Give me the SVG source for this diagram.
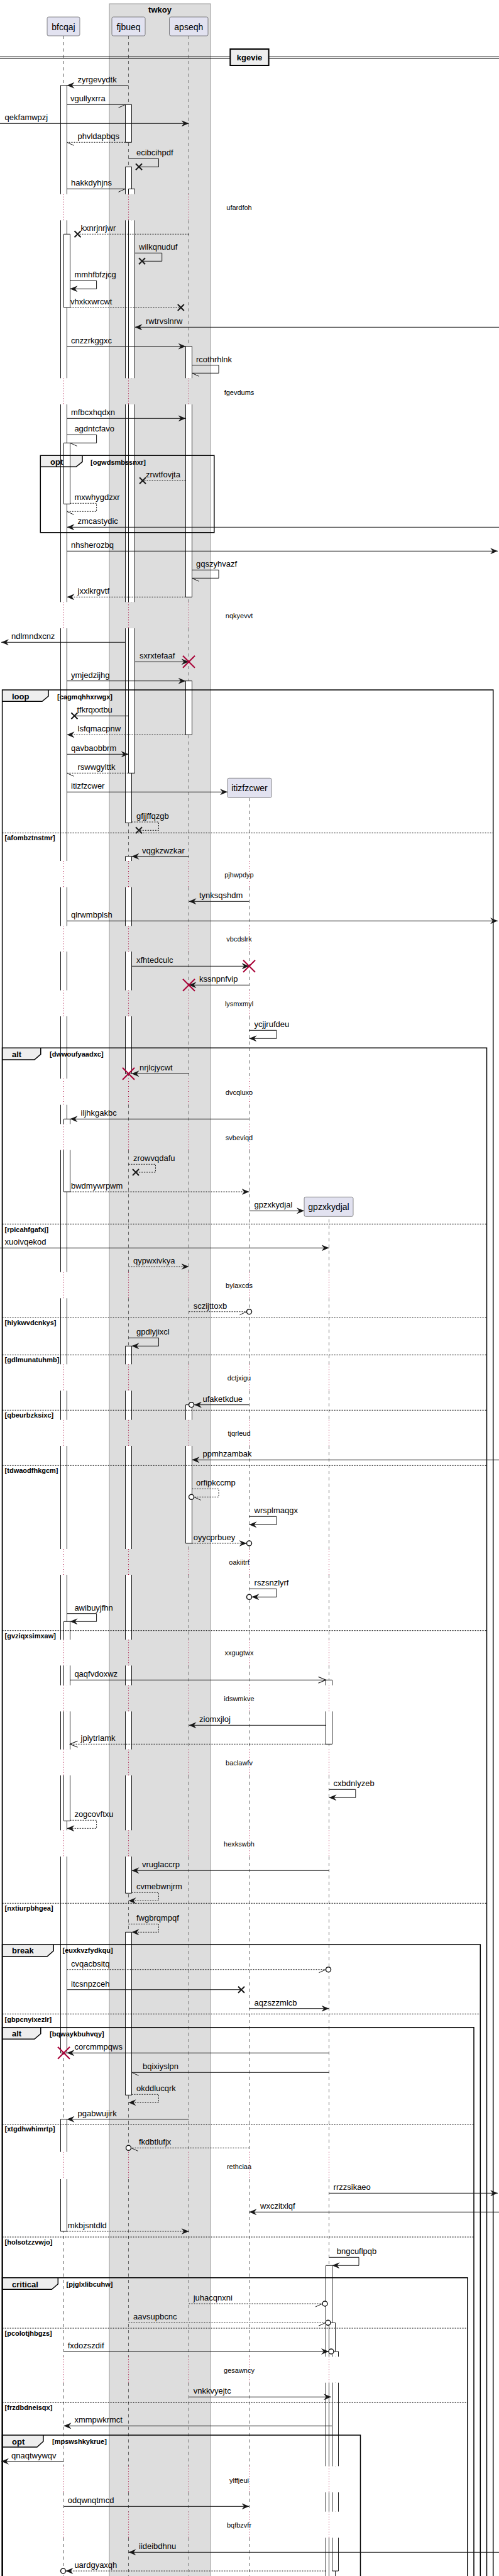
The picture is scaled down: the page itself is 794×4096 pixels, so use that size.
<svg xmlns="http://www.w3.org/2000/svg" xmlns:xlink="http://www.w3.org/1999/xlink" width="794" height="4096" viewBox="0 0 794 4096">
<style>
text{font-family:"Liberation Sans",Arial,sans-serif;fill:#000}
.t{font-size:13px}
.pt{font-size:14px;text-anchor:middle}
.dt{font-size:11px;text-anchor:middle}
.tb{font-size:13px;font-weight:bold}
.cd{font-size:11px;font-weight:bold}
.m{fill:none;stroke:#181818;stroke-width:1}
.d{stroke-dasharray:2,2}
.ll{fill:none;stroke:#666;stroke-width:1;stroke-dasharray:5,5}
.dl{fill:none;stroke:#A80036;stroke-width:1;stroke-dasharray:1,3}
.bw{fill:none;stroke:#fff;stroke-width:10}
.bs{fill:none;stroke:#181818;stroke-width:1}
.fr{fill:none;stroke:#000;stroke-width:1.5}
.tabf{fill:#EEEEEE;stroke:none}
.sep{fill:none;stroke:#000;stroke-width:1;stroke-dasharray:2,2}
.pb{fill:#E2E2F0;stroke:#181818;stroke-width:0.5}
.oc{fill:#fff;stroke:#181818;stroke-width:1.5}
</style>
<defs>
<path id="ll" d="M0,57V308.7M0,350.3V601.3M0,643V957.3M0,999V1369M0,1410.7V1472.3M0,1513V1574.7M0,1616V1715M0,1756.7V1787.3M0,1828.7V2022.7M0,2064.3V2169.3M0,2211.3V2257.7M0,2299V2463M0,2504V2607.3M0,2648.3V2679.7M0,2721.3V2781.7M0,2823V2910.3M0,2952V3421.7M0,3465V3747.3M0,3788.7V3921.3M0,3963V3993.7M0,4035V4096"/>
<path id="dl" d="M0,308.7V350.3M0,601.3V643M0,957.3V999M0,1369V1410.7M0,1472.3V1513M0,1574.7V1616M0,1715V1756.7M0,1787.3V1828.7M0,2022.7V2064.3M0,2169.3V2211.3M0,2257.7V2299M0,2463V2504M0,2607.3V2648.3M0,2679.7V2721.3M0,2781.7V2823M0,2910.3V2952M0,3421.7V3465M0,3747.3V3788.7M0,3921.3V3963M0,3993.7V4035"/>
<path id="rx" d="M-9.5,-9.5L9.5,9.5M-9.5,9.5L9.5,-9.5" stroke="#A80036" stroke-width="2" fill="none"/>
<marker id="af" viewBox="0 0 12 10" refX="12" refY="5" markerWidth="12" markerHeight="10" markerUnits="userSpaceOnUse" orient="auto"><path d="M0,0L12,5L0,10L4,5Z" fill="#181818"/></marker>
<marker id="ao" viewBox="0 0 12 10" refX="12" refY="5" markerWidth="12" markerHeight="10" markerUnits="userSpaceOnUse" orient="auto" overflow="visible"><path d="M0,0L12,5L0,10" fill="none" stroke="#181818" stroke-width="1.2"/></marker>
<marker id="hr" viewBox="0 0 12 10" refX="12" refY="5" markerWidth="12" markerHeight="10" markerUnits="userSpaceOnUse" orient="auto" overflow="visible"><path d="M12,5L1,10" fill="none" stroke="#181818" stroke-width="1"/></marker>
<marker id="hl" viewBox="0 0 12 10" refX="12" refY="5" markerWidth="12" markerHeight="10" markerUnits="userSpaceOnUse" orient="auto" overflow="visible"><path d="M12,5L1,0" fill="none" stroke="#181818" stroke-width="1"/></marker>
<marker id="mx" viewBox="0 0 12 12" refX="6" refY="6" markerWidth="12" markerHeight="12" markerUnits="userSpaceOnUse" orient="auto" overflow="visible"><path d="M1,1L11,11M1,11L11,1" fill="none" stroke="#181818" stroke-width="2"/></marker>
<clipPath id="cL4"><rect x="0" y="1268.3" width="794" height="2828"/></clipPath>
<clipPath id="cL5"><rect x="0" y="1934.3" width="794" height="2162"/></clipPath>
<clipPath id="cB1"><rect x="0" y="135.7" width="794" height="3128.6"/></clipPath>
<clipPath id="cB2"><rect x="0" y="372.3" width="794" height="116.7"/></clipPath>
<clipPath id="cB3"><rect x="0" y="704.3" width="794" height="97"/></clipPath>
<clipPath id="cB4"><rect x="0" y="1779.3" width="794" height="115.7"/></clipPath>
<clipPath id="cB5"><rect x="0" y="2578.3" width="794" height="317"/></clipPath>
<clipPath id="cB6"><rect x="0" y="3369.7" width="794" height="178.3"/></clipPath>
<clipPath id="cF1"><rect x="0" y="166.3" width="794" height="60"/></clipPath>
<clipPath id="cF2"><rect x="0" y="265.3" width="794" height="1043"/></clipPath>
<clipPath id="cF3"><rect x="0" y="300.3" width="794" height="929"/></clipPath>
<clipPath id="cF4"><rect x="0" y="1361.7" width="794" height="345.6"/></clipPath>
<clipPath id="cF5"><rect x="0" y="2140.3" width="794" height="870"/></clipPath>
<clipPath id="cF6"><rect x="0" y="3072.3" width="794" height="259"/></clipPath>
<clipPath id="cA1"><rect x="0" y="550.7" width="794" height="398.6"/></clipPath>
<clipPath id="cA2"><rect x="0" y="1082.7" width="794" height="85.6"/></clipPath>
<clipPath id="cA3"><rect x="0" y="2233.7" width="794" height="220.3"/></clipPath>
<clipPath id="cG1"><rect x="0" y="2671.3" width="794" height="102"/></clipPath>
<clipPath id="cG2"><rect x="0" y="3602.3" width="794" height="500"/></clipPath>
<clipPath id="cG3"><rect x="0" y="3693.3" width="794" height="410"/></clipPath>
<clipPath id="cG4"><rect x="0" y="3739" width="794" height="349"/></clipPath>
</defs>
<rect width="794" height="4096" fill="#fff"/>
<g id="g-twkoy"><rect x="174" y="6" width="161" height="4100" fill="#DDDDDD" stroke="#999" stroke-width="1"/><text class="tb" x="254.5" y="19.5" text-anchor="middle">twkoy</text></g>
<g id="tabs-fill">
<path class="tabf" d="M64.3,724.3H131V734.3L121,742.3H64.3Z"/>
<path class="tabf" d="M3.6,1097H77V1107L67,1115.3H3.6Z"/>
<path class="tabf" d="M3.6,1666.3H64.8V1676.3L54.8,1685H3.6Z"/>
<path class="tabf" d="M3.6,3092H85.2V3102L75.2,3110.7H3.6Z"/>
<path class="tabf" d="M3.6,3223.7H64.8V3233.7L54.8,3242.3H3.6Z"/>
<path class="tabf" d="M3.6,3621.7H92.3V3631.7L82.3,3640.3H3.6Z"/>
<path class="tabf" d="M3.6,3872H68.9V3882L58.9,3891H3.6Z"/>
</g>
<g id="lifelines">
<use href="#ll" x="101.5" class="ll"/><use href="#dl" x="101.5" class="dl"/>
<use href="#ll" x="204.5" class="ll"/><use href="#dl" x="204.5" class="dl"/>
<use href="#ll" x="300.5" class="ll"/><use href="#dl" x="300.5" class="dl"/>
<g clip-path="url(#cL4)"><use href="#ll" x="396.5" class="ll"/><use href="#dl" x="396.5" class="dl"/></g>
<g clip-path="url(#cL5)"><use href="#ll" x="523.5" class="ll"/><use href="#dl" x="523.5" class="dl"/></g>
</g>
<g id="bars">
<g clip-path="url(#cB1)"><use href="#ll" x="101.5" class="bw"/><use href="#ll" x="96.5" class="bs"/><use href="#ll" x="106.5" class="bs"/></g>
<g clip-path="url(#cB2)"><use href="#ll" x="106.5" class="bw"/><use href="#ll" x="101.5" class="bs"/><use href="#ll" x="111.5" class="bs"/></g>
<g clip-path="url(#cB3)"><use href="#ll" x="106.5" class="bw"/><use href="#ll" x="101.5" class="bs"/><use href="#ll" x="111.5" class="bs"/></g>
<g clip-path="url(#cB4)"><use href="#ll" x="106.5" class="bw"/><use href="#ll" x="101.5" class="bs"/><use href="#ll" x="111.5" class="bs"/></g>
<g clip-path="url(#cB5)"><use href="#ll" x="106.5" class="bw"/><use href="#ll" x="101.5" class="bs"/><use href="#ll" x="111.5" class="bs"/></g>
<g clip-path="url(#cB6)"><use href="#ll" x="101.5" class="bw"/><use href="#ll" x="96.5" class="bs"/><use href="#ll" x="106.5" class="bs"/></g>
<g clip-path="url(#cF1)"><use href="#ll" x="204.5" class="bw"/><use href="#ll" x="199.5" class="bs"/><use href="#ll" x="209.5" class="bs"/></g>
<g clip-path="url(#cF2)"><use href="#ll" x="204.5" class="bw"/><use href="#ll" x="199.5" class="bs"/><use href="#ll" x="209.5" class="bs"/></g>
<g clip-path="url(#cF3)"><use href="#ll" x="209.5" class="bw"/><use href="#ll" x="204.5" class="bs"/><use href="#ll" x="214.5" class="bs"/></g>
<g clip-path="url(#cF4)"><use href="#ll" x="204.5" class="bw"/><use href="#ll" x="199.5" class="bs"/><use href="#ll" x="209.5" class="bs"/></g>
<g clip-path="url(#cF5)"><use href="#ll" x="204.5" class="bw"/><use href="#ll" x="199.5" class="bs"/><use href="#ll" x="209.5" class="bs"/></g>
<g clip-path="url(#cF6)"><use href="#ll" x="204.5" class="bw"/><use href="#ll" x="199.5" class="bs"/><use href="#ll" x="209.5" class="bs"/></g>
<g clip-path="url(#cA1)"><use href="#ll" x="300.5" class="bw"/><use href="#ll" x="295.5" class="bs"/><use href="#ll" x="305.5" class="bs"/></g>
<g clip-path="url(#cA2)"><use href="#ll" x="300.5" class="bw"/><use href="#ll" x="295.5" class="bs"/><use href="#ll" x="305.5" class="bs"/></g>
<g clip-path="url(#cA3)"><use href="#ll" x="300.5" class="bw"/><use href="#ll" x="295.5" class="bs"/><use href="#ll" x="305.5" class="bs"/></g>
<g clip-path="url(#cG1)"><use href="#ll" x="523.5" class="bw"/><use href="#ll" x="518.5" class="bs"/><use href="#ll" x="528.5" class="bs"/></g>
<g clip-path="url(#cG2)"><use href="#ll" x="523.5" class="bw"/><use href="#ll" x="518.5" class="bs"/><use href="#ll" x="528.5" class="bs"/></g>
<g clip-path="url(#cG3)"><use href="#ll" x="528.5" class="bw"/><use href="#ll" x="523.5" class="bs"/><use href="#ll" x="533.5" class="bs"/></g>
<g clip-path="url(#cG4)"><use href="#ll" x="533.5" class="bw"/><use href="#ll" x="528.5" class="bs"/><use href="#ll" x="538.5" class="bs"/></g>
<path class="bs" d="M96.5,135.7H106.5M96.5,3264.3H106.5M101.5,372.3H111.5M101.5,489H111.5M101.5,704.3H111.5M101.5,801.3H111.5M101.5,1779.3H111.5M101.5,1895H111.5M101.5,2578.3H111.5M101.5,2895.3H111.5M96.5,3369.7H106.5M96.5,3548H106.5M199.5,166.3H209.5M199.5,226.3H209.5M199.5,265.3H209.5M199.5,1308.3H209.5M204.5,300.3H214.5M204.5,1229.3H214.5M199.5,1361.7H209.5M199.5,1707.3H209.5M199.5,2140.3H209.5M199.5,3010.3H209.5M199.5,3072.3H209.5M199.5,3331.3H209.5M295.5,550.7H305.5M295.5,949.3H305.5M295.5,1082.7H305.5M295.5,1168.3H305.5M295.5,2233.7H305.5M295.5,2454H305.5M518.5,2671.3H528.5M518.5,2773.3H528.5M518.5,3602.3H528.5M523.5,3693.3H533.5M528.5,3739H538.5M528.5,4088H538.5"/>
</g>
<g id="frames">
<path class="fr" d="M64.3,724.3H340.8V846.7H64.3Z"/>
<path class="fr" d="M3.6,4100V1097H784.7V4100"/>
<path class="fr" d="M3.6,4100V1666.3H774.5V4100"/>
<path class="fr" d="M3.6,4100V3092H764.3V4100"/>
<path class="fr" d="M3.6,4100V3223.7H754V4100"/>
<path class="fr" d="M3.6,4100V3621.7H744V4100"/>
<path class="fr" d="M3.6,4100V3872H573.5V4100"/>
<path class="fr" d="M131,724.3V734.3L121,742.3H64.3"/>
<path class="fr" d="M77,1097V1107L67,1115.3H3.6"/>
<path class="fr" d="M64.8,1666.3V1676.3L54.8,1685H3.6"/>
<path class="fr" d="M85.2,3092V3102L75.2,3110.7H3.6"/>
<path class="fr" d="M64.8,3223.7V3233.7L54.8,3242.3H3.6"/>
<path class="fr" d="M92.3,3621.7V3631.7L82.3,3640.3H3.6"/>
<path class="fr" d="M68.9,3872V3882L58.9,3891H3.6"/>
<path class="sep" d="M3.6,1324.3H784.7"/>
<path class="sep" d="M3.6,1946.3H774.5M3.6,2095.3H774.5M3.6,2154.3H774.5M3.6,2242.3H774.5M3.6,2330.3H774.5M3.6,2592.7H774.5M3.6,3026.3H774.5"/>
<path class="sep" d="M3.6,3202.3H764.3"/>
<path class="sep" d="M3.6,3378H754M3.6,3557H754"/>
<path class="sep" d="M3.6,3702H744M3.6,3820.3H744"/>
<text class="tb" x="80" y="739">opt</text>
<text class="cd" x="144" y="738.7">[ogwdsmbssnxr]</text>
<text class="tb" x="19" y="1112">loop</text>
<text class="cd" x="91" y="1111.7">[cagmqhhxrwgx]</text>
<text class="cd" x="7.6" y="1336">[afombztnstmr]</text>
<text class="tb" x="19" y="1681">alt</text>
<text class="cd" x="79" y="1680.3">[dwwoufyaadxc]</text>
<text class="cd" x="7.6" y="1959">[rpicahfgafxj]</text>
<text class="cd" x="7.6" y="2107.3">[hiykwvdcnkys]</text>
<text class="cd" x="7.6" y="2166">[gdlmunatuhmb]</text>
<text class="cd" x="7.6" y="2254.3">[qbeurbzksixc]</text>
<text class="cd" x="7.6" y="2342">[tdwaodfhkgcm]</text>
<text class="cd" x="7.6" y="2604.7">[gvziqxsimxaw]</text>
<text class="cd" x="7.6" y="3038.3">[nxtiurpbhgea]</text>
<text class="tb" x="19" y="3106">break</text>
<text class="cd" x="99.5" y="3105.3">[euxkvzfydkqu]</text>
<text class="cd" x="7.6" y="3214.7">[gbpcnyixezlr]</text>
<text class="tb" x="19" y="3238">alt</text>
<text class="cd" x="79" y="3238">[bqwaykbuhvqy]</text>
<text class="cd" x="7.6" y="3389.3">[xtgdhwhimrtp]</text>
<text class="cd" x="7.6" y="3569.3">[holsotzzvwjo]</text>
<text class="tb" x="19" y="3636.5">critical</text>
<text class="cd" x="105.6" y="3636.3">[pjglxlibcuhw]</text>
<text class="cd" x="7.6" y="3714.3">[pcolotjhbgzs]</text>
<text class="cd" x="7.6" y="3832.3">[frzdbdneisqx]</text>
<text class="tb" x="19" y="3886.5">opt</text>
<text class="cd" x="83" y="3886.3">[mpswshkykrue]</text>
</g>
<g id="divider-kgevie"><path d="M0,90.3H794M0,93.3H794" stroke="#000" stroke-width="1" fill="none"/><rect x="366.3" y="78" width="61.3" height="26" fill="#EEEEEE" stroke="#000" stroke-width="2"/><text class="tb" x="397" y="95.5" text-anchor="middle">kgevie</text></g>
<g id="delays">
<text class="dt" x="380.5" y="334">ufardfoh</text>
<text class="dt" x="380.5" y="627.7">fgevdums</text>
<text class="dt" x="380.5" y="983.3">nqkyevvt</text>
<text class="dt" x="380.5" y="1395.3">pjhwpdyp</text>
<text class="dt" x="380.5" y="1497.3">vbcdslrk</text>
<text class="dt" x="380.5" y="1600.3">lysmxmyl</text>
<text class="dt" x="380.5" y="1741.3">dvcqluxo</text>
<text class="dt" x="380.5" y="1813.3">svbeviqd</text>
<text class="dt" x="380.5" y="2048.3">bylaxcds</text>
<text class="dt" x="380.5" y="2195.3">dctjxigu</text>
<text class="dt" x="380.5" y="2283.3">tjqrleud</text>
<text class="dt" x="380.5" y="2488">oakiitrf</text>
<text class="dt" x="380.5" y="2632.3">xxgugtwx</text>
<text class="dt" x="380.5" y="2705">idswmkve</text>
<text class="dt" x="380.5" y="2807.3">baclawfv</text>
<text class="dt" x="380.5" y="2936">hexkswbh</text>
<text class="dt" x="380.5" y="3449.3">rethciaa</text>
<text class="dt" x="380.5" y="3773.3">gesawncy</text>
<text class="dt" x="380.5" y="3947.7">ylffjeui</text>
<text class="dt" x="380.5" y="4019.3">bqfbzvfr</text>
</g>
<g id="connectors">
<path class="m" d="M204.5,135.7H106.5" marker-end="url(#af)"/>
<path class="m" d="M106.5,166.3H199.5" marker-end="url(#hr)"/>
<path class="m" d="M0,196.3H300.5" marker-end="url(#af)"/>
<path class="m d" d="M199.5,226.3H106.5" marker-end="url(#hl)"/>
<path class="m" d="M204.5,252.3H252.5V265.3H221" marker-end="url(#mx)"/>
<path class="m" d="M106.5,300.3H199.5" marker-end="url(#hr)"/>
<path class="m d" d="M300.5,372.3H123.5" marker-end="url(#mx)"/>
<path class="m" d="M214.5,402.3H257.7V415.3H226" marker-end="url(#mx)"/>
<path class="m" d="M111.5,446.3H153.6V459.3H111.5" marker-end="url(#af)"/>
<path class="m d" d="M111.5,489H287.8" marker-end="url(#mx)"/>
<path class="m" d="M794,520.3H214.5" marker-end="url(#af)"/>
<path class="m" d="M106.5,550.7H295.5" marker-end="url(#af)"/>
<path class="m" d="M305.5,580.7H348V593.3H305.5" marker-end="url(#hl)"/>
<path class="m" d="M106.5,665.3H295.5" marker-end="url(#af)"/>
<path class="m" d="M106.5,691.3H153.6V704.3H111.5" marker-end="url(#hl)"/>
<path class="m d" d="M295.5,764.3H227" marker-end="url(#mx)"/>
<path class="m d" d="M111.5,800.3H153.6V813.3H106.5" marker-end="url(#hl)"/>
<path class="m" d="M794,838.3H106.5" marker-end="url(#af)"/>
<path class="m" d="M106.5,876.3H792" marker-end="url(#af)"/>
<path class="m" d="M305.5,906.3H348V919.3H305.5" marker-end="url(#hl)"/>
<path class="m d" d="M295.5,949.3H106.5" marker-end="url(#af)"/>
<path class="m" d="M199.5,1021.3H2" marker-end="url(#af)"/>
<path class="m" d="M214.5,1052.3H300.5" marker-end="url(#af)"/>
<use href="#rx" x="300.5" y="1052.3"/>
<path class="m" d="M106.5,1082.7H295.5" marker-end="url(#af)"/>
<path class="m" d="M204.5,1138.3H118.4" marker-end="url(#mx)"/>
<path class="m d" d="M295.5,1168.3H106.5" marker-end="url(#af)"/>
<path class="m" d="M106.5,1199.3H204.5" marker-end="url(#af)"/>
<path class="m d" d="M204.5,1229.3H106.5" marker-end="url(#hl)"/>
<path class="m" d="M106.5,1259.3H362" marker-end="url(#af)"/>
<path class="m d" d="M209.5,1307H252.5V1320.3H221" marker-end="url(#mx)"/>
<path class="m" d="M300.5,1361.7H209.5" marker-end="url(#af)"/>
<path class="m" d="M396.5,1433.3H300.5" marker-end="url(#af)"/>
<path class="m" d="M106.5,1464.3H792" marker-end="url(#af)"/>
<path class="m" d="M209.5,1536.3H396.5" marker-end="url(#af)"/>
<use href="#rx" x="396.5" y="1536.3"/>
<path class="m" d="M396.5,1566.3H300.5" marker-end="url(#af)"/>
<use href="#rx" x="300.5" y="1566.3"/>
<path class="m" d="M396.5,1638.3H440V1651.3H396.5" marker-end="url(#af)"/>
<path class="m" d="M300.5,1707.3H209.5" marker-end="url(#af)"/>
<use href="#rx" x="204.5" y="1707.3"/>
<path class="m" d="M396.5,1779.3H111.5" marker-end="url(#af)"/>
<path class="m d" d="M204.5,1851.3H247.5V1864H216" marker-end="url(#mx)"/>
<path class="m d" d="M111.5,1895H396.5" marker-end="url(#af)"/>
<path class="m" d="M396.5,1925.3H484" marker-end="url(#af)"/>
<path class="m" d="M0,1984.3H523.5" marker-end="url(#af)"/>
<path class="m d" d="M204.5,2014H300.5" marker-end="url(#af)"/>
<path class="m d" d="M300.5,2085.7H392.5" marker-end="url(#hr)"/>
<circle class="oc" cx="396.5" cy="2085.7" r="4"/>
<path class="m" d="M204.5,2127.3H252.5V2140.3H209.5" marker-end="url(#af)"/>
<path class="m" d="M396.5,2233.7H309" marker-end="url(#af)"/>
<circle class="oc" cx="304.5" cy="2233.7" r="4"/>
<path class="m" d="M794,2321.3H305.5" marker-end="url(#af)"/>
<path class="m d" d="M305.5,2367.3H348V2380.3H308.5" marker-end="url(#hl)"/>
<circle class="oc" cx="304.5" cy="2380.3" r="4"/>
<path class="m" d="M396.5,2411.3H440V2424.3H396.5" marker-end="url(#af)"/>
<path class="m d" d="M305.5,2454H392.5" marker-end="url(#af)"/>
<circle class="oc" cx="396.5" cy="2454" r="4"/>
<path class="m" d="M396.5,2526.3H440V2539.3H400.5" marker-end="url(#af)"/>
<circle class="oc" cx="396.5" cy="2539.3" r="4"/>
<path class="m" d="M106.5,2565.7H153.6V2578.3H111.5" marker-end="url(#af)"/>
<path class="m" d="M111.5,2671.3H518.5" marker-end="url(#ao)"/>
<path class="m" d="M518.5,2743.3H300.5" marker-end="url(#af)"/>
<path class="m d" d="M518.5,2773.3H111.5" marker-end="url(#ao)"/>
<path class="m" d="M523.5,2845.3H565.8V2858.3H523.5" marker-end="url(#af)"/>
<path class="m d" d="M111.5,2894.3H153.6V2907.3H106.5" marker-end="url(#af)"/>
<path class="m" d="M523.5,2974.3H209.5" marker-end="url(#af)"/>
<path class="m d" d="M209.5,3009.3H252.5V3022.3H204.5" marker-end="url(#af)"/>
<path class="m d" d="M204.5,3059.3H252.5V3072.3H209.5" marker-end="url(#af)"/>
<path class="m d" d="M106.5,3131.7H518.5" marker-end="url(#hr)"/>
<circle class="oc" cx="522.5" cy="3131.7" r="4"/>
<path class="m" d="M106.5,3163.7H384" marker-end="url(#mx)"/>
<path class="m" d="M396.5,3193.7H523.5" marker-end="url(#af)"/>
<path class="m" d="M523.5,3264.3H106.5" marker-end="url(#af)"/>
<use href="#rx" x="101.5" y="3264.3"/>
<path class="m" d="M523.5,3295.3H209.5" marker-end="url(#hl)"/>
<path class="m d" d="M209.5,3330.3H252.5V3343.3H204.5" marker-end="url(#af)"/>
<path class="m" d="M300.5,3369.7H106.5" marker-end="url(#af)"/>
<path class="m d" d="M396.5,3415.3H208.5" marker-end="url(#hl)"/>
<circle class="oc" cx="204.5" cy="3415.3" r="4"/>
<path class="m" d="M523.5,3487.3H792" marker-end="url(#af)"/>
<path class="m" d="M794,3517.3H396.5" marker-end="url(#af)"/>
<path class="m d" d="M106.5,3548H300.5" marker-end="url(#af)"/>
<path class="m" d="M523.5,3589.3H571V3602.3H528.5" marker-end="url(#af)"/>
<path class="m d" d="M300.5,3663H513" marker-end="url(#hr)"/>
<circle class="oc" cx="517" cy="3663" r="4"/>
<path class="m d" d="M204.5,3693.3H518" marker-end="url(#hr)"/>
<circle class="oc" cx="522" cy="3693.3" r="4"/>
<path class="m" d="M101.5,3739H523" marker-end="url(#af)"/>
<circle class="oc" cx="527" cy="3739" r="4"/>
<path class="m" d="M300.5,3811.3H527" marker-end="url(#af)"/>
<path class="m" d="M528.5,3857.3H101.5" marker-end="url(#af)"/>
<path class="m" d="M101.5,3913.7H2" marker-end="url(#af)"/>
<path class="m" d="M101.5,3985.3H396.5" marker-end="url(#af)"/>
<path class="m" d="M794,4058.3H204.5" marker-end="url(#af)"/>
<path class="m d" d="M518.5,4088H104.5" marker-end="url(#af)"/>
<circle class="oc" cx="100.5" cy="4088" r="4"/>
</g>
<g id="labels">
<text class="t" x="123.5" y="130.7">zyrgevydtk</text>
<text class="t" x="112" y="161.3">vgullyxrra</text>
<text class="t" x="7.6" y="191.3">qekfamwpzj</text>
<text class="t" x="123.5" y="221.3">phvldapbqs</text>
<text class="t" x="217" y="247.3">ecibcihpdf</text>
<text class="t" x="113" y="295.3">hakkdyhjns</text>
<text class="t" x="128.6" y="367.3">kxnrjnrjwr</text>
<text class="t" x="221" y="397.3">wilkqnuduf</text>
<text class="t" x="118.4" y="441.3">mmhfbfzjcg</text>
<text class="t" x="112" y="484">vhxkxwrcwt</text>
<text class="t" x="232" y="515.3">rwtrvslnrw</text>
<text class="t" x="113" y="545.7">cnzzrkggxc</text>
<text class="t" x="312" y="575.7">rcothrhlnk</text>
<text class="t" x="113" y="660.3">mfbcxhqdxn</text>
<text class="t" x="118.4" y="686.3">agdntcfavo</text>
<text class="t" x="232" y="759.3">zrwtfovjta</text>
<text class="t" x="118.4" y="795.3">mxwhygdzxr</text>
<text class="t" x="123.5" y="833.3">zmcastydic</text>
<text class="t" x="113" y="871.3">nhsherozbq</text>
<text class="t" x="312" y="901.3">gqszyhvazf</text>
<text class="t" x="123.5" y="944.3">jxxlkrgvtf</text>
<text class="t" x="18" y="1016.3">ndlmndxcnz</text>
<text class="t" x="222" y="1047.3">sxrxtefaaf</text>
<text class="t" x="113" y="1077.7">ymjedzijhg</text>
<text class="t" x="122.5" y="1133.3">tfkrqxxtbu</text>
<text class="t" x="123.5" y="1163.3">lsfqmacpnw</text>
<text class="t" x="113" y="1194.3">qavbaobbrm</text>
<text class="t" x="123.5" y="1224.3">rswwgylttk</text>
<text class="t" x="113" y="1254.3">itizfzcwer</text>
<text class="t" x="217" y="1302">gfjjffqzgb</text>
<text class="t" x="226" y="1356.7">vqgkzwzkar</text>
<text class="t" x="317" y="1428.3">tynksqshdm</text>
<text class="t" x="113" y="1459.3">qlrwmbplsh</text>
<text class="t" x="217" y="1531.3">xfhtedculc</text>
<text class="t" x="317" y="1561.3">kssnpnfvip</text>
<text class="t" x="404.6" y="1633.3">ycjjrufdeu</text>
<text class="t" x="222" y="1702.3">nrjlcjycwt</text>
<text class="t" x="128.6" y="1774.3">iljhkgakbc</text>
<text class="t" x="212" y="1846.3">zrowvqdafu</text>
<text class="t" x="113" y="1890">bwdmywrpwm</text>
<text class="t" x="404.6" y="1920.3">gpzxkydjal</text>
<text class="t" x="7.6" y="1979.3">xuoivqekod</text>
<text class="t" x="212" y="2009">qypwxivkya</text>
<text class="t" x="307.7" y="2080.7">sczijttoxb</text>
<text class="t" x="217" y="2122.3">gpdlyjixcl</text>
<text class="t" x="322.5" y="2228.7">ufaketkdue</text>
<text class="t" x="322.5" y="2316.3">ppmhzambak</text>
<text class="t" x="312" y="2362.3">orfipkccmp</text>
<text class="t" x="404.6" y="2406.3">wrsplmaqgx</text>
<text class="t" x="307.7" y="2449">oyycprbuey</text>
<text class="t" x="404.6" y="2521.3">rszsnzlyrf</text>
<text class="t" x="118.4" y="2560.7">awibuyjfhn</text>
<text class="t" x="118.4" y="2666.3">qaqfvdoxwz</text>
<text class="t" x="317" y="2738.3">ziomxjloj</text>
<text class="t" x="128.6" y="2768.3">jpiytrlamk</text>
<text class="t" x="530.6" y="2840.3">cxbdnlyzeb</text>
<text class="t" x="118.4" y="2889.3">zogcovftxu</text>
<text class="t" x="226" y="2969.3">vruglaccrp</text>
<text class="t" x="217" y="3004.3">cvmebwnjrm</text>
<text class="t" x="217" y="3054.3">fwgbrqmpqf</text>
<text class="t" x="113" y="3126.7">cvqacbsitq</text>
<text class="t" x="113" y="3158.7">itcsnpzceh</text>
<text class="t" x="404.6" y="3188.7">aqzszzmlcb</text>
<text class="t" x="118.4" y="3259.3">corcmmpqws</text>
<text class="t" x="227" y="3290.3">bqixiyslpn</text>
<text class="t" x="217" y="3325.3">okddlucqrk</text>
<text class="t" x="123.5" y="3364.7">pgabwujirk</text>
<text class="t" x="221" y="3410.3">fkdbtlufjx</text>
<text class="t" x="530.6" y="3482.3">rrzzsikaeo</text>
<text class="t" x="414" y="3512.3">wxczitxlqf</text>
<text class="t" x="107.7" y="3543">mkbjsntdld</text>
<text class="t" x="535.7" y="3584.3">bngcuflpqb</text>
<text class="t" x="307.7" y="3658">juhacqnxni</text>
<text class="t" x="212" y="3688.3">aavsupbcnc</text>
<text class="t" x="107.7" y="3734">fxdozszdif</text>
<text class="t" x="307.7" y="3806.3">vnkkvyejtc</text>
<text class="t" x="118.4" y="3852.3">xmmpwkrmct</text>
<text class="t" x="18" y="3908.7">qnaqtwywqv</text>
<text class="t" x="107.7" y="3980.3">odqwnqtmcd</text>
<text class="t" x="221" y="4053.3">iideibdhnu</text>
<text class="t" x="118.4" y="4083">uardgyaxqh</text>
</g>
<g id="p-bfcqaj"><rect class="pb" x="75" y="27" width="52" height="30" rx="2.5"/><text class="pt" x="101" y="47.5">bfcqaj</text></g>
<g id="p-fjbueq"><rect class="pb" x="178" y="27" width="53" height="30" rx="2.5"/><text class="pt" x="204.5" y="47.5">fjbueq</text></g>
<g id="p-apseqh"><rect class="pb" x="269.5" y="27" width="61.5" height="30" rx="2.5"/><text class="pt" x="300.3" y="47.5">apseqh</text></g>
<g id="p-itizfzcwer"><rect class="pb" x="362" y="1237.3" width="70" height="31" rx="2.5"/><text class="pt" x="397" y="1258">itizfzcwer</text></g>
<g id="p-gpzxkydjal"><rect class="pb" x="484" y="1903.3" width="78" height="31" rx="2.5"/><text class="pt" x="523" y="1924">gpzxkydjal</text></g>
</svg>
